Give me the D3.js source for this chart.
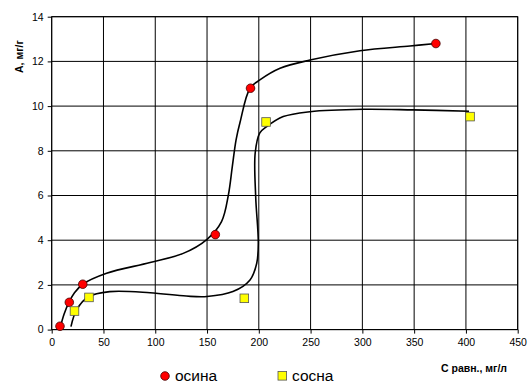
<!DOCTYPE html>
<html>
<head>
<meta charset="utf-8">
<script src="https://cdn.jsdelivr.net/npm/d3@7"></script>
<style>
  html, body { margin: 0; padding: 0; background: #fff; }
  svg { display: block; font-family: 'Liberation Sans', Arial, sans-serif; }
</style>
</head>
<body>
<svg width="528" height="383"></svg>
<script>
(function() {
  'use strict';

  // measured points
  const osinaC = [8, 17, 30, 158, 192, 371];
  const osinaA = [0.15, 1.22, 2.03, 4.25, 10.8, 12.8];
  const sosnaC = [22, 36, 186, 207, 404];
  const sosnaA = [0.83, 1.44, 1.40, 9.29, 9.53];

  // hand-drawn trend curves
  const osinaCurve = [
    [8, 0.05], [12, 0.7], [17, 1.25], [22, 1.65], [30, 2.03], [53, 2.52],
    [95, 3.0], [127, 3.41], [150, 4.04], [164, 4.83], [170.6, 6.02],
    [174.4, 7.29], [178, 8.48], [182, 9.3], [191.5, 10.8], [201, 11.17],
    [220.5, 11.69], [249.4, 12.06], [297.7, 12.48], [346, 12.69], [371, 12.8],
  ];
  const sosnaCurve = [
    [18.6, 0.13], [24, 0.88], [35.4, 1.47], [56, 1.7], [95, 1.65],
    [130, 1.5], [150, 1.48], [175, 1.7], [191.5, 2.22], [198, 2.97],
    [199.5, 3.87], [197, 5.93], [196.5, 7.9], [201, 8.8], [207.6, 9.08],
    [223.6, 9.53], [249.4, 9.75], [300.9, 9.86], [349, 9.83], [403, 9.77],
  ];

  const xTicks = [0, 50, 100, 150, 200, 250, 300, 350, 400, 450];
  const yTicks = [0, 2, 4, 6, 8, 10, 12, 14];

  const margin = {
    top: 16.7,
    right: 10.3,
    bottom: 53.4,
    left: 51.7,
  };

  const svg = d3.select('svg');
  const width = +svg.attr('width') - margin.left - margin.right;
  const height = +svg.attr('height') - margin.top - margin.bottom;

  const g = svg.append('g')
      .attr('transform', 'translate(' + margin.left + ',' + margin.top + ')');

  const x = d3.scaleLinear()
      .domain([0, 450])
      .range([0, width]);

  const y = d3.scaleLinear()
      .domain([0, 14])
      .range([height, 0]);

  // grid
  g.append('g')
      .selectAll('line')
      .data(xTicks)
      .join('line')
      .attr('x1', (d) => x(d))
      .attr('x2', (d) => x(d))
      .attr('y1', 0)
      .attr('y2', height)
      .attr('stroke', '#000')
      .attr('stroke-width', 1);

  g.append('g')
      .selectAll('line')
      .data(yTicks)
      .join('line')
      .attr('x1', 0)
      .attr('x2', width)
      .attr('y1', (d) => y(d))
      .attr('y2', (d) => y(d))
      .attr('stroke', '#000')
      .attr('stroke-width', 1);

  // axes
  const xAxis = g.append('g')
      .attr('transform', 'translate(0,' + height + ')')
      .call(d3.axisBottom(x)
          .tickValues(xTicks)
          .tickSize(4)
          .tickPadding(5)
      );

  const yAxis = g.append('g')
      .call(d3.axisLeft(y)
          .tickValues(yTicks)
          .tickSize(4)
          .tickPadding(4)
      );

  [xAxis, yAxis].forEach((a) => {
    a.select('.domain').remove();
    a.selectAll('line').attr('stroke', '#000');
    a.selectAll('text')
        .attr('fill', '#000')
        .style('font-family', "'Liberation Sans', Arial, sans-serif")
        .style('font-size', '10.5px');
  });

  g.append('rect')
      .attr('width', width)
      .attr('height', height)
      .attr('fill', 'none')
      .attr('stroke', '#000');

  // curves
  const line = d3.line()
      .x((d) => x(d[0]))
      .y((d) => y(d[1]))
      .curve(d3.curveCatmullRom.alpha(0.5));

  [osinaCurve, sosnaCurve].forEach((c) => {
    g.append('path')
        .datum(c)
        .attr('d', line)
        .attr('fill', 'none')
        .attr('stroke', '#000')
        .attr('stroke-width', 1.6);
  });

  // markers
  g.append('g')
      .selectAll('circle')
      .data(d3.zip(osinaC, osinaA))
      .join('circle')
      .attr('cx', (d) => x(d[0]))
      .attr('cy', (d) => y(d[1]))
      .attr('r', 4.3)
      .attr('fill', '#ff0000')
      .attr('stroke', '#400')
      .attr('stroke-width', 0.8);

  g.append('g')
      .selectAll('rect')
      .data(d3.zip(sosnaC, sosnaA))
      .join('rect')
      .attr('x', (d) => x(d[0]) - 4.3)
      .attr('y', (d) => y(d[1]) - 4.3)
      .attr('width', 8.6)
      .attr('height', 8.6)
      .attr('fill', '#ffff00')
      .attr('stroke', '#555')
      .attr('stroke-width', 0.8);

  // axis titles
  svg.append('text')
      .attr('x', 507)
      .attr('y', 372)
      .attr('text-anchor', 'end')
      .attr('font-size', '10.5px')
      .attr('font-weight', 'bold')
      .text('С равн., мг/л');

  svg.append('text')
      .attr('transform', 'translate(23,73) rotate(-90)')
      .attr('font-size', '10.5px')
      .attr('font-weight', 'bold')
      .text('А, мг/г');

  // legend
  const legend = svg.append('g');
  legend.append('circle')
      .attr('cx', 165)
      .attr('cy', 376)
      .attr('r', 4.3)
      .attr('fill', '#ff0000')
      .attr('stroke', '#400')
      .attr('stroke-width', 0.8);
  legend.append('text')
      .attr('x', 175)
      .attr('y', 381)
      .attr('font-size', '15.5px')
      .text('осина');
  legend.append('rect')
      .attr('x', 278)
      .attr('y', 371.5)
      .attr('width', 8.6)
      .attr('height', 8.6)
      .attr('fill', '#ffff00')
      .attr('stroke', '#555')
      .attr('stroke-width', 0.8);
  legend.append('text')
      .attr('x', 292)
      .attr('y', 381)
      .attr('font-size', '15.5px')
      .text('сосна');
})();
</script>
</body>
</html>
